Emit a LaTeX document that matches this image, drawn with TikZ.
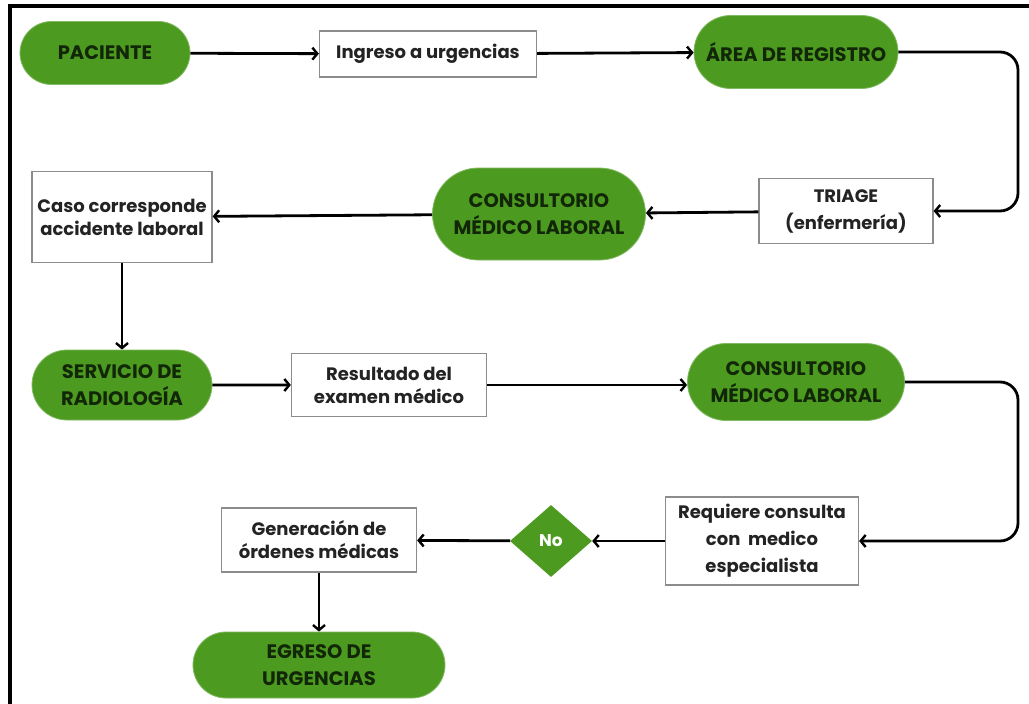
\documentclass[tikz,border=0pt]{standalone}
\usepackage{fontspec}
\setmainfont{Poppins}
\usetikzlibrary{arrows.meta,shapes.geometric,shapes.misc}
\definecolor{gr}{RGB}{76,155,32}
\definecolor{grtext}{RGB}{18,38,8}
\definecolor{boxtext}{RGB}{35,35,35}
\definecolor{boxline}{RGB}{140,140,140}
\begin{document}
\begin{tikzpicture}[x=1pt,y=-1pt,
  pill/.style={rounded rectangle, fill=gr, draw=gr!70!white, line width=0.8pt, text=grtext,
    font=\fontsize{19.5}{27}\selectfont\bfseries, align=center, inner sep=0pt},
  pbox/.style={rectangle, draw=boxline, line width=1.2pt, fill=white, text=boxtext,
    font=\fontsize{18}{23}\selectfont\bfseries, align=center, inner sep=0pt},
  wide/.style={font=\fontsize{18}{27}\selectfont\bfseries},
  dec/.style={diamond, fill=gr, text=white, font=\fontsize{17}{20}\selectfont\bfseries, inner sep=0pt, aspect=1.1},
  arr/.style={draw=black, line width=2.8pt, -{Straight Barb[length=5pt,width=12pt,line width=2.4pt]}}]
\useasboundingbox (0,0) rectangle (1029,704);
\fill[white] (0,0) rectangle (1029,704);
\draw[line width=4pt] (10,704) -- (10,6) -- (1029,6);

\node[pill, minimum width=170pt, minimum height=63pt] (pac) at (105,53) {PACIENTE};
\node[pbox, minimum width=217pt, minimum height=46pt] (ing) at (428,54) {Ingreso a urgencias};
\node[pill, minimum width=204pt, minimum height=73pt] (reg) at (796,52) {ÁREA DE REGISTRO};
\node[pbox, wide, minimum width=174pt, minimum height=65pt] (tri) at (846,211) {TRIAGE\\(enfermería)};
\node[pill, minimum width=213pt, minimum height=92pt] (cm1) at (539,214) {CONSULTORIO\\MÉDICO LABORAL};
\node[pbox, minimum width=180pt, minimum height=91pt] (caso) at (122,217) {Caso corresponde\\accidente laboral};
\node[pill, minimum width=180pt, minimum height=70pt] (rad) at (122,385) {SERVICIO DE\\RADIOLOGÍA};
\node[pbox, minimum width=195pt, minimum height=63pt] (res) at (389,385) {Resultado del\\examen médico};
\node[pill, minimum width=217pt, minimum height=77pt] (cm2) at (796,382) {CONSULTORIO\\MÉDICO LABORAL};
\node[pbox, wide, minimum width=193pt, minimum height=88pt] (req) at (762,541) {Requiere consulta\\con\ \ medico\\especialista};
\node[dec, minimum width=82pt, minimum height=72pt] (no) at (551,541) {No};
\node[pbox, minimum width=195pt, minimum height=64pt] (gen) at (319,540) {Generación de\\órdenes médicas};
\node[pill, minimum width=252pt, minimum height=66pt] (egr) at (319,665) {EGRESO DE\\URGENCIAS};

\coordinate (rt) at (1018,0);

\draw[arr] (pac) -- (ing);
\draw[arr] (ing) -- (reg);
\draw[arr, rounded corners=18pt] (reg.east) -- (reg.east -| rt) -- (tri.east -| rt) -- (tri.east);
\draw[arr] (tri) -- (cm1);
\draw[arr] (cm1) -- (caso);
\draw[arr] (caso) -- (rad);
\draw[arr] (rad) -- (res);
\draw[arr] (res.east) -- (res.east -| cm2.west);
\draw[arr, rounded corners=18pt] (cm2.east) -- (cm2.east -| rt) -- (req.east -| rt) -- (req.east);
\draw[arr] (req) -- (no);
\draw[arr] (no) -- (gen);
\draw[arr] (gen) -- (egr);
\end{tikzpicture}
\end{document}
